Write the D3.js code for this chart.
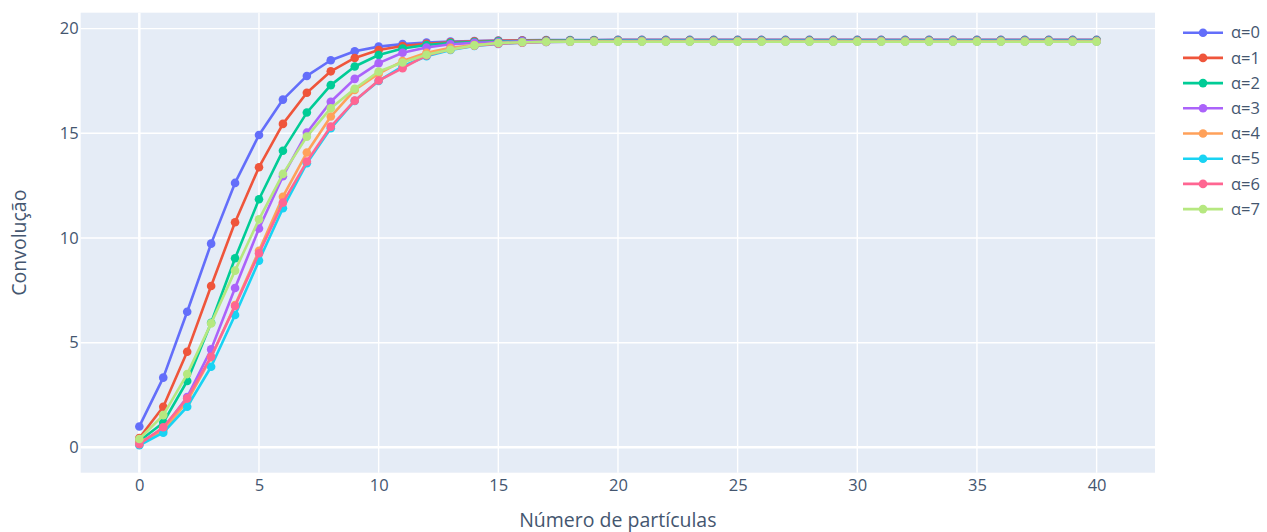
<!DOCTYPE html>
<html>
<head>
<meta charset="utf-8">
<script src="https://cdn.jsdelivr.net/npm/d3@7"></script>
<style>
  html, body { margin: 0; padding: 0; background: #fff; }
  svg { display: block; font-family: "Open Sans", Verdana, Arial, sans-serif; }
</style>
</head>
<body>
<div id="chart"></div>
<script>
const particles = d3.range(0, 41);

const seriesNames = ["α=0", "α=1", "α=2", "α=3", "α=4", "α=5", "α=6", "α=7"];
const seriesColors = ["#636efa", "#EF553B", "#00cc96", "#ab63fa", "#FFA15A", "#19d3f3", "#FF6692", "#B6E880"];

const alpha0 = [1.00, 3.33, 6.48, 9.73, 12.63, 14.92, 16.61, 17.74, 18.49, 18.92, 19.14, 19.26, 19.33, 19.38, 19.41, 19.43, 19.44, 19.45, 19.45, 19.45,
  19.46, 19.46, 19.46, 19.46, 19.46, 19.46, 19.46, 19.46, 19.46, 19.46, 19.46, 19.46, 19.46, 19.46, 19.46, 19.46, 19.46, 19.46, 19.46, 19.46, 19.46];
const alpha1 = [0.45, 1.94, 4.57, 7.71, 10.75, 13.38, 15.45, 16.94, 17.96, 18.60, 18.98, 19.17, 19.28, 19.35, 19.39, 19.42, 19.43, 19.44, 19.44, 19.44,
  19.45, 19.45, 19.45, 19.45, 19.45, 19.45, 19.45, 19.45, 19.45, 19.45, 19.45, 19.45, 19.45, 19.45, 19.45, 19.45, 19.45, 19.45, 19.45, 19.45, 19.45];
const alpha2 = [0.30, 1.18, 3.17, 5.95, 9.03, 11.85, 14.17, 15.99, 17.30, 18.19, 18.74, 19.05, 19.22, 19.31, 19.36, 19.39, 19.41, 19.42, 19.43, 19.43,
  19.44, 19.44, 19.44, 19.44, 19.44, 19.44, 19.44, 19.44, 19.44, 19.44, 19.44, 19.44, 19.44, 19.44, 19.44, 19.44, 19.44, 19.44, 19.44, 19.44, 19.44];
const alpha3 = [0.20, 0.90, 2.40, 4.68, 7.61, 10.45, 12.95, 15.03, 16.51, 17.60, 18.35, 18.85, 19.10, 19.25, 19.32, 19.36, 19.39, 19.40, 19.41, 19.41,
  19.42, 19.42, 19.42, 19.42, 19.42, 19.42, 19.42, 19.42, 19.42, 19.42, 19.42, 19.42, 19.42, 19.42, 19.42, 19.42, 19.42, 19.42, 19.42, 19.42, 19.42];
const alpha4 = [0.25, 0.80, 2.20, 4.30, 6.80, 9.39, 11.97, 14.08, 15.80, 17.07, 17.85, 18.45, 18.85, 19.08, 19.22, 19.30, 19.34, 19.37, 19.38, 19.39,
  19.40, 19.40, 19.40, 19.40, 19.40, 19.40, 19.40, 19.40, 19.40, 19.40, 19.40, 19.40, 19.40, 19.40, 19.40, 19.40, 19.40, 19.40, 19.40, 19.40, 19.40];
const alpha5 = [0.10, 0.70, 1.94, 3.85, 6.32, 8.92, 11.42, 13.57, 15.24, 16.55, 17.50, 18.20, 18.68, 18.98, 19.17, 19.27, 19.33, 19.36, 19.38, 19.39,
  19.39, 19.39, 19.39, 19.39, 19.39, 19.39, 19.39, 19.39, 19.39, 19.39, 19.39, 19.39, 19.39, 19.39, 19.39, 19.39, 19.39, 19.39, 19.39, 19.39, 19.39];
const alpha6 = [0.15, 0.96, 2.34, 4.33, 6.75, 9.27, 11.69, 13.65, 15.32, 16.56, 17.52, 18.11, 18.72, 19.01, 19.18, 19.28, 19.33, 19.36, 19.38, 19.39,
  19.40, 19.40, 19.40, 19.40, 19.40, 19.40, 19.40, 19.40, 19.40, 19.40, 19.40, 19.40, 19.40, 19.40, 19.40, 19.40, 19.40, 19.40, 19.40, 19.40, 19.40];
const alpha7 = [0.40, 1.54, 3.50, 5.92, 8.44, 10.89, 13.06, 14.84, 16.20, 17.13, 17.95, 18.38, 18.75, 19.00, 19.20, 19.31, 19.35, 19.37, 19.38, 19.38,
  19.38, 19.38, 19.38, 19.38, 19.38, 19.38, 19.38, 19.38, 19.38, 19.38, 19.38, 19.38, 19.38, 19.38, 19.38, 19.38, 19.38, 19.38, 19.38, 19.38, 19.38];

const allSeries = [alpha0, alpha1, alpha2, alpha3, alpha4, alpha5, alpha6, alpha7];

const xTicks = [0, 5, 10, 15, 20, 25, 30, 35, 40];
const yTicks = [0, 5, 10, 15, 20];

const width = 1267;
const height = 532;
const margin = { top: 12.7, right: 112, bottom: 59.3, left: 80.7 };
const textColor = "#44566f";

const xScale = d3.scaleLinear()
    .domain([-2.45, 42.44])
    .range([margin.left, width - margin.right]);

const yScale = d3.scaleLinear()
    .domain([-1.21, 20.76])
    .range([height - margin.bottom, margin.top]);

const svg = d3.select("#chart").append("svg")
    .attr("width", width)
    .attr("height", height)
    .attr("viewBox", [0, 0, width, height]);

svg.append("rect")
    .attr("x", margin.left)
    .attr("y", margin.top)
    .attr("width", xScale.range()[1] - margin.left)
    .attr("height", yScale.range()[0] - margin.top)
    .attr("fill", "#E5ECF6");

// grid
const grid = svg.append("g");
grid.selectAll(".vgrid")
    .data(xTicks)
    .join("line")
    .attr("x1", (d) => xScale(d))
    .attr("x2", (d) => xScale(d))
    .attr("y1", margin.top)
    .attr("y2", yScale.range()[0])
    .attr("stroke", "#fff")
    .attr("stroke-width", (d) => d === 0 ? 2.5 : 1.4);

grid.selectAll(".hgrid")
    .data(yTicks)
    .join("line")
    .attr("x1", margin.left)
    .attr("x2", xScale.range()[1])
    .attr("y1", (d) => yScale(d))
    .attr("y2", (d) => yScale(d))
    .attr("stroke", "#fff")
    .attr("stroke-width", (d) => d === 0 ? 2.5 : 1.4);

// axes
const xAxis = svg.append("g")
    .attr("transform", `translate(0, ${yScale.range()[0]})`)
    .call(d3.axisBottom(xScale).tickValues(xTicks).tickSize(0).tickPadding(7));

const yAxis = svg.append("g")
    .attr("transform", `translate(${margin.left}, 0)`)
    .call(d3.axisLeft(yScale).tickValues(yTicks).tickSize(0).tickPadding(2));

[xAxis, yAxis].forEach((ax) => {
    ax.select(".domain").remove();
    ax.selectAll("text")
        .attr("fill", textColor)
        .attr("font-size", 16.5)
        .attr("font-family", "\"Open Sans\", Verdana, Arial, sans-serif");
});

svg.append("text")
    .attr("x", (margin.left + xScale.range()[1]) / 2)
    .attr("y", 527)
    .attr("text-anchor", "middle")
    .attr("fill", textColor)
    .attr("font-size", 19.5)
    .text("Número de partículas");

svg.append("text")
    .attr("transform", `translate(26, ${(margin.top + yScale.range()[0]) / 2}) rotate(-90)`)
    .attr("text-anchor", "middle")
    .attr("fill", textColor)
    .attr("font-size", 19.5)
    .text("Convolução");

// traces
const line = d3.line()
    .x((d, i) => xScale(particles[i]))
    .y((d) => yScale(d));

allSeries.forEach((values, s) => {
    const g = svg.append("g");
    g.append("path")
        .datum(values)
        .attr("fill", "none")
        .attr("stroke", seriesColors[s])
        .attr("stroke-width", 2.6)
        .attr("stroke-linejoin", "round")
        .attr("d", line);
    g.selectAll("circle")
        .data(values)
        .join("circle")
        .attr("cx", (d, i) => xScale(particles[i]))
        .attr("cy", (d) => yScale(d))
        .attr("r", 4.3)
        .attr("fill", seriesColors[s]);
});

// legend
const legend = svg.append("g")
    .attr("transform", "translate(1183, 32.7)");

const items = legend.selectAll("g")
    .data(seriesNames)
    .join("g")
    .attr("transform", (_, i) => `translate(0, ${i * 25.2})`);

items.append("line")
    .attr("x1", 0)
    .attr("x2", 40)
    .attr("stroke", (_, i) => seriesColors[i])
    .attr("stroke-width", 2.6);

items.append("circle")
    .attr("cx", 20)
    .attr("r", 4.3)
    .attr("fill", (_, i) => seriesColors[i]);

items.append("text")
    .attr("x", 48)
    .attr("dy", "0.35em")
    .attr("fill", textColor)
    .attr("font-size", 16.5)
    .text((d) => d);
</script>
</body>
</html>
